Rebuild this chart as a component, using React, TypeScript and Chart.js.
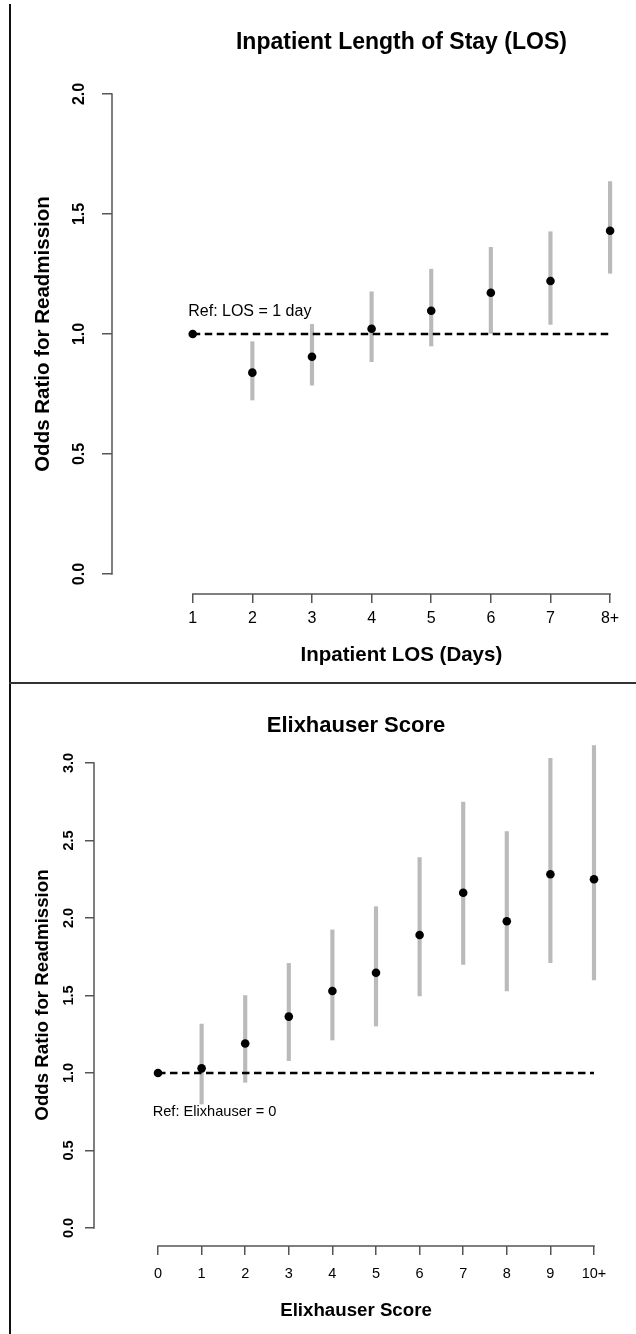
import React, { useEffect, useRef } from 'react';
import { Chart, registerables } from 'chart.js';

Chart.register(...registerables);

const FONT = '"Liberation Sans", Arial, Helvetica, sans-serif';

// ---------- Data: Inpatient Length of Stay ----------
const losLabels = ['1', '2', '3', '4', '5', '6', '7', '8+'];
const losOR = [1.0, 0.839, 0.905, 1.022, 1.097, 1.172, 1.221, 1.43];
const losLower = [null, 0.725, 0.787, 0.885, 0.95, 1.003, 1.04, 1.253];
const losUpper = [null, 0.968, 1.04, 1.176, 1.27, 1.361, 1.426, 1.635];
const losYTicks = [0, 0.5, 1, 1.5, 2];

// ---------- Data: Elixhauser Score ----------
const elixLabels = ['0', '1', '2', '3', '4', '5', '6', '7', '8', '9', '10+'];
const elixOR = [1.0, 1.03, 1.19, 1.364, 1.529, 1.647, 1.89, 2.163, 1.979, 2.282, 2.25];
const elixLower = [null, 0.8, 0.94, 1.08, 1.213, 1.303, 1.497, 1.7, 1.529, 1.712, 1.6];
const elixUpper = [null, 1.316, 1.5, 1.707, 1.923, 2.073, 2.39, 2.748, 2.557, 3.03, 3.112];
const elixYTicks = [0, 0.5, 1, 1.5, 2, 2.5, 3];

const REF_VALUE = 1;
const Y_TITLE = 'Odds Ratio for Readmission';
const AXIS_COLOR = '#555';

type Spec = {
  labels: string[];
  or: number[];
  lower: (number | null)[];
  upper: (number | null)[];
  yTicks: number[];
  title: string;
  xTitle: string;
  refText: string;
  height: number;
  top: number;
  xMin: number;
  xMax: number;
  yMin: number;
  yMax: number;
  padTop: number;
  padRight: number;
  yAxisWidth: number;
  xAxisHeight: number;
  xTickPad: number;
  yTickPad: number;
  xTickLen: number;
  yTickLen: number;
  tickSize: number;
  labSize: number;
  mainSize: number;
  refSize: number;
  yTitlePad: number;
  titleY: number;
  xTitleY: number;
  titleShift: number;
  refDx: number;
  refDy: number;
};

const rStylePlugin = {
  id: 'rStyle',
  afterDraw(chart: any, _args: any, opts: any) {
    const { ctx } = chart;
    const x = chart.scales.x;
    const y = chart.scales.y;
    const xs = x.ticks.map((t: any) => x.getPixelForValue(t.value));
    const ys = y.ticks.map((t: any) => y.getPixelForValue(t.value));
    const x0 = Math.min(...xs);
    const x1 = Math.max(...xs);
    ctx.save();
    ctx.strokeStyle = AXIS_COLOR;
    ctx.lineWidth = 1.5;
    ctx.beginPath();
    ctx.moveTo(x0 - 0.75, x.top);
    ctx.lineTo(x1 + 0.75, x.top);
    ctx.moveTo(y.right, Math.min(...ys) - 0.75);
    ctx.lineTo(y.right, Math.max(...ys) + 0.75);
    ctx.stroke();

    const cx = (x0 + x1) / 2 + opts.titleShift;
    ctx.fillStyle = '#000';
    ctx.textAlign = 'center';
    ctx.textBaseline = 'middle';
    ctx.font = `bold ${opts.mainSize}px ${FONT}`;
    ctx.fillText(opts.title, cx, opts.titleY);
    ctx.font = `bold ${opts.labSize}px ${FONT}`;
    ctx.fillText(opts.xTitle, cx, opts.xTitleY);

    ctx.textAlign = 'left';
    ctx.font = `${opts.refSize}px ${FONT}`;
    ctx.fillText(opts.refText, x.getPixelForValue(0) + opts.refDx, y.getPixelForValue(REF_VALUE) + opts.refDy);
    ctx.restore();
  },
};

function buildConfig(p: Spec): any {
  const idx = p.labels.map((_, i) => i);
  return {
    type: 'scatter',
    data: {
      datasets: [
        {
          type: 'bar',
          data: idx
            .filter((i) => p.lower[i] != null && p.upper[i] != null)
            .map((i) => ({ x: i, y: [p.lower[i], p.upper[i]] })),
          backgroundColor: '#bababa',
          borderWidth: 0,
          barThickness: 3.5,
          grouped: false,
          order: 3,
        },
        {
          type: 'line',
          data: [
            { x: idx[0], y: REF_VALUE },
            { x: idx[idx.length - 1], y: REF_VALUE },
          ],
          borderColor: '#000',
          borderWidth: 2.3,
          borderDash: [7.5, 4.5],
          pointRadius: 0,
          fill: false,
          order: 2,
        },
        {
          type: 'scatter',
          data: idx.map((i) => ({ x: i, y: p.or[i] })),
          backgroundColor: '#000',
          borderWidth: 0,
          pointRadius: 4.3,
          order: 1,
        },
      ],
    },
    options: {
      responsive: false,
      animation: false,
      events: [],
      layout: { padding: { left: 0, top: p.padTop, right: p.padRight, bottom: 0 } },
      plugins: {
        legend: { display: false },
        tooltip: { enabled: false },
        title: { display: false },
        rStyle: {
          title: p.title,
          xTitle: p.xTitle,
          refText: p.refText,
          mainSize: p.mainSize,
          labSize: p.labSize,
          refSize: p.refSize,
          titleY: p.titleY,
          xTitleY: p.xTitleY,
          titleShift: p.titleShift,
          refDx: p.refDx,
          refDy: p.refDy,
        },
      },
      scales: {
        x: {
          type: 'linear',
          min: p.xMin,
          max: p.xMax,
          offset: false,
          afterBuildTicks: (s: any) => {
            s.ticks = idx.map((v) => ({ value: v }));
          },
          afterFit: (s: any) => {
            s.height = p.xAxisHeight;
          },
          ticks: {
            autoSkip: false,
            maxRotation: 0,
            minRotation: 0,
            padding: p.xTickPad,
            color: '#000',
            font: { family: FONT, size: p.tickSize },
            callback: (_v: any, i: number) => p.labels[i],
          },
          grid: {
            display: true,
            drawOnChartArea: false,
            drawTicks: true,
            tickLength: p.xTickLen,
            color: AXIS_COLOR,
            lineWidth: 1.5,
            offset: false,
          },
          border: { display: false },
        },
        y: {
          type: 'linear',
          min: p.yMin,
          max: p.yMax,
          afterBuildTicks: (s: any) => {
            s.ticks = p.yTicks.map((v) => ({ value: v }));
          },
          afterFit: (s: any) => {
            s.width = p.yAxisWidth;
          },
          ticks: {
            autoSkip: false,
            minRotation: 90,
            maxRotation: 90,
            crossAlign: 'center',
            padding: p.yTickPad,
            color: '#000',
            font: { family: FONT, size: p.tickSize, weight: 'bold' },
            callback: (v: any) => Number(v).toFixed(1),
          },
          grid: {
            display: true,
            drawOnChartArea: false,
            drawTicks: true,
            tickLength: p.yTickLen,
            color: AXIS_COLOR,
            lineWidth: 1.5,
          },
          border: { display: false },
          title: {
            display: true,
            text: Y_TITLE,
            color: '#000',
            font: { family: FONT, size: p.labSize, weight: 'bold' },
            padding: { top: p.yTitlePad, bottom: 0 },
          },
        },
      },
    },
    plugins: [rStylePlugin],
  };
}

const topSpec: Spec = {
  labels: losLabels,
  or: losOR,
  lower: losLower,
  upper: losUpper,
  yTicks: losYTicks,
  title: 'Inpatient Length of Stay (LOS)',
  xTitle: 'Inpatient LOS (Days)',
  refText: 'Ref: LOS = 1 day',
  height: 683,
  top: 0,
  xMin: -1.354,
  xMax: 7.25,
  yMin: -0.0833,
  yMax: 2.0833,
  padTop: 74,
  padRight: 11,
  yAxisWidth: 112,
  xAxisHeight: 89,
  xTickPad: 6,
  yTickPad: 11,
  xTickLen: 9,
  yTickLen: 10,
  tickSize: 16,
  labSize: 20.5,
  mainSize: 23,
  refSize: 16,
  yTitlePad: 31,
  titleY: 43,
  xTitleY: 655,
  titleShift: 0,
  refDx: -4.5,
  refDy: -22,
};

const bottomSpec: Spec = {
  labels: elixLabels,
  or: elixOR,
  lower: elixLower,
  upper: elixUpper,
  yTicks: elixYTicks,
  title: 'Elixhauser Score',
  xTitle: 'Elixhauser Score',
  refText: 'Ref: Elixhauser = 0',
  height: 651,
  top: 683,
  xMin: -1.468,
  xMax: 10.367,
  yMin: -0.116,
  yMax: 3.1226,
  padTop: 61,
  padRight: 26,
  yAxisWidth: 94,
  xAxisHeight: 88,
  xTickPad: 10,
  yTickPad: 6,
  xTickLen: 9,
  yTickLen: 9,
  tickSize: 14.5,
  labSize: 18.7,
  mainSize: 22,
  refSize: 14.6,
  yTitlePad: 32,
  titleY: 43,
  xTitleY: 628,
  titleShift: -20,
  refDx: -5.3,
  refDy: 38.7,
};

function Panel({ spec }: { spec: Spec }) {
  const ref = useRef<HTMLCanvasElement>(null);
  useEffect(() => {
    if (!ref.current) return;
    const chart = new Chart(ref.current, buildConfig(spec));
    return () => chart.destroy();
  }, [spec]);
  return (
    <canvas
      ref={ref}
      width={636}
      height={spec.height}
      style={{ position: 'absolute', left: 0, top: spec.top, width: 636, height: spec.height, display: 'block' }}
    />
  );
}

export default function App() {
  return (
    <div
      style={{
        position: 'absolute',
        left: 0,
        top: 0,
        width: 636,
        height: 1334,
        background: '#fff',
        overflow: 'hidden',
      }}
    >
      <Panel spec={topSpec} />
      <Panel spec={bottomSpec} />
      <div style={{ position: 'absolute', left: 9, top: 4, width: 2, height: 1330, background: '#111' }} />
      <div style={{ position: 'absolute', left: 9, top: 682, width: 627, height: 2, background: '#333' }} />
    </div>
  );
}
